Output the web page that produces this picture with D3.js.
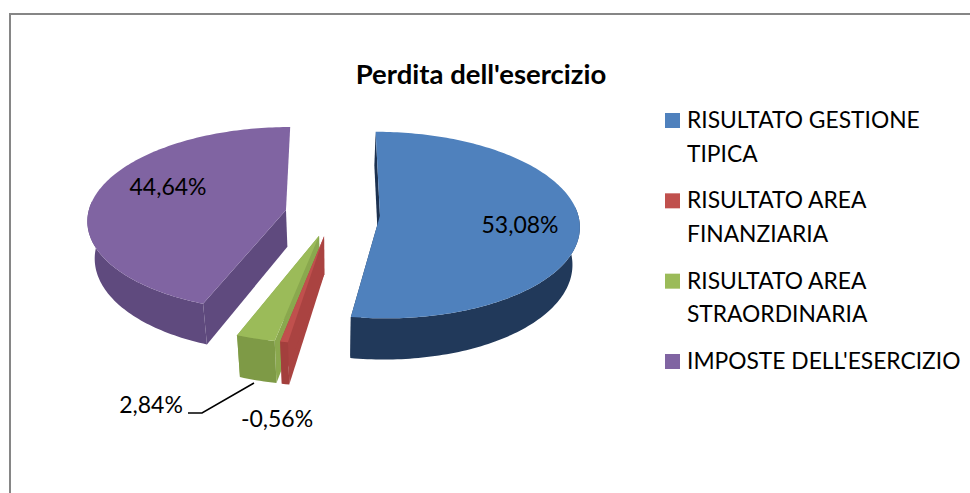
<!DOCTYPE html>
<html>
<head>
<meta charset="utf-8">
<script src="https://cdn.jsdelivr.net/npm/d3@7"></script>
<style>
html, body { margin: 0; padding: 0; background: #fff; }
svg { display: block; }
text { font-family: Lato, "Open Sans", sans-serif; fill: #000; }
</style>
</head>
<body>
<script>
var title = "Perdita dell'esercizio";
var categories = ["RISULTATO GESTIONE TIPICA", "RISULTATO AREA FINANZIARIA", "RISULTATO AREA STRAORDINARIA", "IMPOSTE DELL'ESERCIZIO"];
var values = [53.08, -0.56, 2.84, 44.64];
var valueLabels = ["53,08%", "-0,56%", "2,84%", "44,64%"];
var legendLines = [["RISULTATO GESTIONE", "TIPICA"], ["RISULTATO AREA", "FINANZIARIA"], ["RISULTATO AREA", "STRAORDINARIA"], ["IMPOSTE DELL'ESERCIZIO"]];
var topColors = ["#4f81bd", "#c0504d", "#9bbb59", "#8064a2"];
var sideColors = ["#21395a", "#a33f3d", "#7e9a46", "#5f4a7e"];
var faceColors = ["#1c3150", "#aa4341", "#8aa84e", "#5f4a7e"];

var width = 970, height = 493;

// pie geometry, worked out from the picture
var cx = 332.5, cy = 214, rx = 198, ry = 92;
var explode = 0.24, persp = 0.1, depth = 37, lean = 0.97;

var svg = d3.select("body").append("svg")
    .attr("width", width)
    .attr("height", height);

svg.append("rect").attr("width", width).attr("height", height).attr("fill", "#fff");

// chart border, only top and left are in the frame
svg.append("path")
    .attr("d", "M10,493V14H970")
    .attr("fill", "none")
    .attr("stroke", "#868686")
    .attr("stroke-width", 2);

var color = d3.scaleOrdinal().domain(categories).range(topColors);
var sideColor = d3.scaleOrdinal().domain(categories).range(sideColors);
var faceColor = d3.scaleOrdinal().domain(categories).range(faceColors);

var pie = d3.pie().sort(null).value(function(d) { return Math.abs(d.value); });
var slices = pie(categories.map(function(c, i) { return {name: c, value: values[i]}; }));

// plane coords (u to the right, v to the viewer) -> screen, with some perspective
function project(u, v, low) {
    var s = 1 / (1 - persp * v);
    var k = low ? lean : 1;
    return [cx + rx * u * s * k, cy + ry * v * s + (low ? depth * s : 0)];
}

function arcPoints(d, low) {
    var mid = (d.startAngle + d.endAngle) / 2;
    var ou = explode * Math.sin(mid), ov = -explode * Math.cos(mid);
    var n = Math.max(2, Math.ceil((d.endAngle - d.startAngle) / 0.02));
    return d3.range(n + 1).map(function(i) {
        var a = d.startAngle + (d.endAngle - d.startAngle) * i / n;
        return project(ou + Math.sin(a), ov - Math.cos(a), low);
    });
}

function apex(d, low) {
    var mid = (d.startAngle + d.endAngle) / 2;
    return project(explode * Math.sin(mid), -explode * Math.cos(mid), low);
}

var line = d3.line();
function closed(pts) { return line(pts) + "Z"; }

// back to front so the nearer pieces cover the others
var order = [3, 2, 1, 0];
order.forEach(function(idx) {
    var d = slices[idx];
    var name = d.data.name;
    var g = svg.append("g").attr("class", "slice");
    var upper = arcPoints(d, false), lower = arcPoints(d, true);
    var last = upper.length - 1;

    // the two cut faces, the back cut of the purple piece does not show
    g.append("path")
        .attr("d", closed([apex(d, false), upper[0], lower[0], apex(d, true)]))
        .attr("fill", faceColor(name));
    if (idx !== 3) {
        g.append("path")
            .attr("d", closed([apex(d, false), upper[last], lower[last], apex(d, true)]))
            .attr("fill", faceColor(name));
    }

    // outer wall, only the part facing the viewer
    var limit = apex(d, false)[1] - 10;
    var front = d3.range(upper.length).filter(function(i) { return upper[i][1] > limit; });
    var wallTop = front.map(function(i) { return upper[i]; });
    var wallLow = front.map(function(i) { return lower[i]; }).reverse();
    g.append("path")
        .attr("d", closed(wallTop.concat(wallLow)))
        .attr("fill", sideColor(name));

    // top
    g.append("path")
        .attr("d", closed([apex(d, false)].concat(upper)))
        .attr("fill", color(name));
});

// title
svg.append("text")
    .attr("x", 481).attr("y", 84)
    .attr("text-anchor", "middle")
    .style("font-size", "27.5px")
    .style("font-weight", "bold")
    .text(title);

// data labels
var labelPos = [[520, 233], [277, 427], [151, 413], [168, 195]];
svg.selectAll(".label")
    .data(valueLabels)
    .enter().append("text")
    .attr("class", "label")
    .attr("x", function(d, i) { return labelPos[i][0]; })
    .attr("y", function(d, i) { return labelPos[i][1]; })
    .attr("text-anchor", "middle")
    .style("font-size", "23px")
    .text(function(d) { return d; });

// leader line of the green slice
svg.append("path")
    .attr("d", d3.line()([[188, 413], [202, 413], [254, 383]]))
    .attr("fill", "none")
    .attr("stroke", "#000")
    .attr("stroke-width", 1.5);

// legend
var legendY = d3.scalePoint().domain(categories).range([113, 354]);
var legend = svg.selectAll(".legend")
    .data(categories)
    .enter().append("g")
    .attr("class", "legend")
    .attr("transform", function(d) { return "translate(665," + legendY(d) + ")"; });

legend.append("rect")
    .attr("width", 15)
    .attr("height", 15)
    .attr("fill", function(d) { return color(d); });

legend.each(function(d, i) {
    d3.select(this).selectAll("text")
        .data(legendLines[i])
        .enter().append("text")
        .attr("x", 22)
        .attr("y", function(t, j) { return 15 + j * 33.5; })
        .style("font-size", "22.8px")
        .text(function(t) { return t; });
});
</script>
</body>
</html>
